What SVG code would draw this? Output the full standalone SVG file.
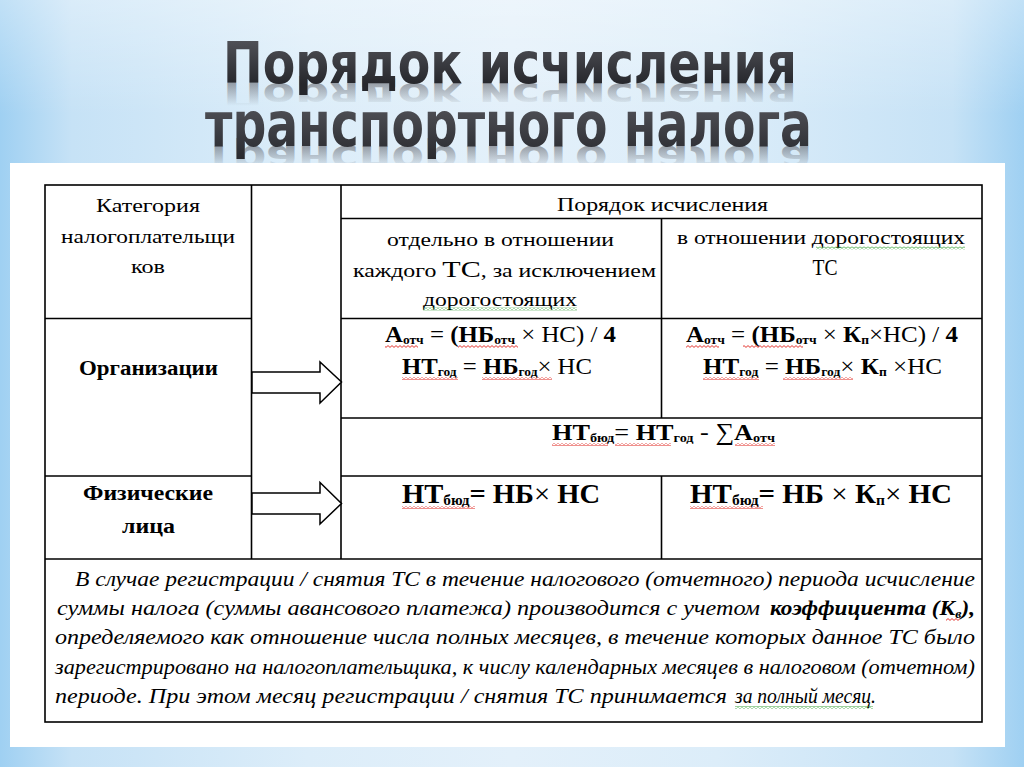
<svg xmlns="http://www.w3.org/2000/svg" width="1024" height="767" viewBox="0 0 1024 767">
<defs>
<linearGradient id="bg" x1="0" y1="0" x2="1" y2="0">
<stop offset="0" stop-color="#9fd0f2"/>
<stop offset="0.07" stop-color="#c6e2f6"/>
<stop offset="0.3" stop-color="#dcedf9"/>
<stop offset="0.5" stop-color="#e3f0fa"/>
<stop offset="0.7" stop-color="#dcedf9"/>
<stop offset="0.93" stop-color="#c6e2f6"/>
<stop offset="1" stop-color="#9fd0f2"/>
</linearGradient>
<linearGradient id="topfade" x1="0" y1="0" x2="0" y2="1">
<stop offset="0" stop-color="#ffffff" stop-opacity="0.35"/>
<stop offset="0.15" stop-color="#ffffff" stop-opacity="0"/>
<stop offset="1" stop-color="#ffffff" stop-opacity="0"/>
</linearGradient>
<linearGradient id="tg1" gradientUnits="userSpaceOnUse" x1="0" y1="40" x2="0" y2="84">
<stop offset="0" stop-color="#505157"/>
<stop offset="1" stop-color="#26272c"/>
</linearGradient>
<linearGradient id="tg2" gradientUnits="userSpaceOnUse" x1="0" y1="105" x2="0" y2="162">
<stop offset="0" stop-color="#505157"/>
<stop offset="1" stop-color="#26272c"/>
</linearGradient>
<linearGradient id="rg1" gradientUnits="userSpaceOnUse" x1="0" y1="83" x2="0" y2="45">
<stop offset="0" stop-color="#5a5b62" stop-opacity="0.55"/>
<stop offset="1" stop-color="#5a5b62" stop-opacity="0"/>
</linearGradient>
<linearGradient id="rg2" gradientUnits="userSpaceOnUse" x1="0" y1="146" x2="0" y2="110">
<stop offset="0" stop-color="#5a5b62" stop-opacity="0.55"/>
<stop offset="1" stop-color="#5a5b62" stop-opacity="0"/>
</linearGradient>
<pattern id="wr" width="4" height="3" patternUnits="userSpaceOnUse">
<polyline points="0,0.6 2,2.4 4,0.6" fill="none" stroke="#e0201a" stroke-width="0.9"/>
</pattern>
<pattern id="wg" width="4" height="3" patternUnits="userSpaceOnUse">
<polyline points="0,0.6 2,2.4 4,0.6" fill="none" stroke="#3aa43a" stroke-width="0.9"/>
</pattern>
<style>
.title{font-family:"DejaVu Sans Condensed","DejaVu Sans",sans-serif;font-stretch:condensed;font-weight:bold}
.t{font-family:"Liberation Serif","Times New Roman",serif;font-size:19px;fill:#000}
.b{font-family:"Liberation Serif","Times New Roman",serif;font-weight:bold;fill:#000}
.f{font-family:"Liberation Serif","Times New Roman",serif;font-size:24px;fill:#000}
.bd{font-weight:bold}
.nb{font-weight:normal}
.sub{font-size:13px;font-weight:bold}
.it{font-family:"Liberation Serif","Times New Roman",serif;font-style:italic;font-size:20px;fill:#000}
.ln{stroke:#000;stroke-width:1.6;fill:none}
.arrow{fill:#fff;stroke:#000;stroke-width:1.5;stroke-linejoin:miter}
.wr{fill:url(#wr)}
.wg{fill:url(#wg)}
</style>
</defs>

<!-- background -->
<rect x="0" y="0" width="1024" height="767" fill="url(#bg)"/>
<rect x="0" y="0" width="1024" height="767" fill="url(#topfade)"/>

<!-- title -->
<g id="title">
<g transform="translate(0,83) scale(1,-0.6) translate(0,-83)">
<text class="title" x="223" y="83" font-size="57" textLength="574" lengthAdjust="spacingAndGlyphs" fill="url(#rg1)">Порядок исчисления</text>
</g>
<text class="title" x="223" y="83" font-size="57" textLength="574" lengthAdjust="spacingAndGlyphs" fill="url(#tg1)">Порядок исчисления</text>
<g transform="translate(0,146) scale(1,-0.6) translate(0,-146)">
<text class="title" x="205" y="146" font-size="63" textLength="607" lengthAdjust="spacingAndGlyphs" fill="url(#rg2)">транспортного налога</text>
</g>
<text class="title" x="205" y="146" font-size="63" textLength="607" lengthAdjust="spacingAndGlyphs" fill="url(#tg2)">транспортного налога</text>
</g>

<!-- white panel -->
<rect x="10" y="163" width="995" height="584" fill="#ffffff"/>

<!-- table grid -->
<g id="grid">
<rect class="ln" x="45" y="185" width="937" height="537"/>
<line class="ln" x1="251.5" y1="185" x2="251.5" y2="559"/>
<line class="ln" x1="341" y1="185" x2="341" y2="559"/>
<line class="ln" x1="661.5" y1="218.5" x2="661.5" y2="418"/>
<line class="ln" x1="661.5" y1="476" x2="661.5" y2="559"/>
<line class="ln" x1="341" y1="218.5" x2="982" y2="218.5"/>
<line class="ln" x1="45" y1="318.5" x2="251.5" y2="318.5"/>
<line class="ln" x1="341" y1="318.5" x2="982" y2="318.5"/>
<line class="ln" x1="341" y1="418" x2="982" y2="418"/>
<line class="ln" x1="45" y1="476" x2="251.5" y2="476"/>
<line class="ln" x1="341" y1="476" x2="982" y2="476"/>
<line class="ln" x1="45" y1="559" x2="982" y2="559"/>
</g>

<!-- header cells -->
<g id="hdr-category">
<text class="t" x="148" y="211.5" text-anchor="middle" textLength="104" lengthAdjust="spacingAndGlyphs">Категория</text>
<text class="t" x="148" y="243" text-anchor="middle" textLength="174" lengthAdjust="spacingAndGlyphs">налогоплательщи</text>
<text class="t" x="148" y="273" text-anchor="middle" textLength="34" lengthAdjust="spacingAndGlyphs">ков</text>
</g>
<g id="hdr-order">
<text class="t" x="557" y="210.5" textLength="211" lengthAdjust="spacingAndGlyphs">Порядок исчисления</text>
</g>
<g id="hdr-ordinary">
<text class="t" x="387" y="245.5" textLength="227" lengthAdjust="spacingAndGlyphs">отдельно в отношении</text>
<text class="t" x="353" y="276.5" textLength="303" lengthAdjust="spacingAndGlyphs">каждого <tspan style="font-size:24px">ТС</tspan>, за исключением</text>
<text class="t" x="423" y="305.5" textLength="154" lengthAdjust="spacingAndGlyphs">дорогостоящих</text>
<rect class="wg" x="423" y="307.5" width="154" height="3"/>
</g>
<g id="hdr-expensive">
<text class="t" x="677" y="244" textLength="288" lengthAdjust="spacingAndGlyphs">в отношении дорогостоящих</text>
<rect class="wg" x="816" y="246.5" width="149" height="3"/>
<text class="t" x="825" y="275" text-anchor="middle" style="font-size:24px" textLength="25" lengthAdjust="spacingAndGlyphs">ТС</text>
</g>

<!-- organisations row -->
<g id="row-org">
<text class="b" x="148.5" y="375" font-size="20" text-anchor="middle" textLength="139" lengthAdjust="spacingAndGlyphs">Организации</text>
</g>
<g id="org-ordinary">
<text class="f" x="385" y="342" textLength="231" lengthAdjust="spacingAndGlyphs"><tspan class="bd">А</tspan><tspan class="sub" dy="2">отч</tspan><tspan dy="-2"> = </tspan><tspan class="bd">(НБ</tspan><tspan class="sub" dy="2">отч</tspan><tspan dy="-2"> × НС) / </tspan><tspan class="bd">4</tspan></text>
<rect class="wr" x="385" y="345" width="33" height="3"/>
<rect class="wr" x="458" y="345" width="60" height="3"/>
<text class="f" x="402" y="374" textLength="190" lengthAdjust="spacingAndGlyphs"><tspan class="bd">НТ</tspan><tspan class="sub" dy="2">год</tspan><tspan dy="-2"> = </tspan><tspan class="bd">НБ</tspan><tspan class="sub" dy="2">год</tspan><tspan dy="-2">× НС</tspan></text>
<rect class="wr" x="402" y="377" width="56" height="3"/>
<rect class="wr" x="482" y="377" width="70" height="3"/>
</g>
<g id="org-expensive">
<text class="f" x="686" y="342" textLength="272" lengthAdjust="spacingAndGlyphs"><tspan class="bd">А</tspan><tspan class="sub" dy="2">отч</tspan><tspan dy="-2"> = </tspan><tspan class="bd">(НБ</tspan><tspan class="sub" dy="2">отч</tspan><tspan dy="-2"> × </tspan><tspan class="bd">К</tspan><tspan class="sub" dy="2">п</tspan><tspan dy="-2">×НС) / </tspan><tspan class="bd">4</tspan></text>
<rect class="wr" x="686" y="345" width="33" height="3"/>
<rect class="wr" x="743" y="345" width="60" height="3"/>
<text class="f" x="703" y="374" textLength="239" lengthAdjust="spacingAndGlyphs"><tspan class="bd">НТ</tspan><tspan class="sub" dy="2">год</tspan><tspan dy="-2"> = </tspan><tspan class="bd">НБ</tspan><tspan class="sub" dy="2">год</tspan><tspan dy="-2">× </tspan><tspan class="bd">К</tspan><tspan class="sub" dy="2">п</tspan><tspan dy="-2"> ×НС</tspan></text>
<rect class="wr" x="703" y="377" width="56" height="3"/>
<rect class="wr" x="783" y="377" width="70" height="3"/>
</g>
<g id="org-budget">
<text class="f" x="552" y="440" textLength="223" lengthAdjust="spacingAndGlyphs"><tspan class="bd">НТ</tspan><tspan class="sub" dy="2">бюд</tspan><tspan dy="-2">= </tspan><tspan class="bd">НТ</tspan><tspan class="sub" dy="2">год</tspan><tspan dy="-2"> - ∑</tspan><tspan class="bd">А</tspan><tspan class="sub" dy="2">отч</tspan></text>
<rect class="wr" x="552" y="443" width="56" height="3"/>
<rect class="wr" x="615" y="443" width="56" height="3"/>
<rect class="wr" x="735" y="443" width="40" height="3"/>
</g>

<!-- individuals row -->
<g id="row-ind">
<text class="b" x="148" y="500" font-size="20" text-anchor="middle" textLength="130" lengthAdjust="spacingAndGlyphs">Физические</text>
<text class="b" x="148.5" y="533" font-size="20" text-anchor="middle" textLength="53" lengthAdjust="spacingAndGlyphs">лица</text>
</g>
<g id="ind-ordinary">
<text class="b" x="402" y="503" font-size="28" textLength="198" lengthAdjust="spacingAndGlyphs">НТ<tspan font-size="15" dy="2">бюд</tspan><tspan dy="-2">= НБ</tspan><tspan class="nb">× </tspan>НС</text>
<rect class="wr" x="402" y="506" width="73" height="3"/>
</g>
<g id="ind-expensive">
<text class="b" x="690" y="503" font-size="28" textLength="262" lengthAdjust="spacingAndGlyphs">НТ<tspan font-size="15" dy="2">бюд</tspan><tspan dy="-2">= НБ </tspan><tspan class="nb">× </tspan>К<tspan font-size="15" dy="2">п</tspan><tspan dy="-2" class="nb">× </tspan>НС</text>
<rect class="wr" x="690" y="506" width="73" height="3"/>
</g>

<!-- note paragraph -->
<g id="note">
<text class="it" x="75" y="586" textLength="900" lengthAdjust="spacingAndGlyphs">В случае регистрации / снятия ТС в течение налогового (отчетного) периода исчисление</text>
<text class="it" x="57" y="615" textLength="703" lengthAdjust="spacingAndGlyphs">суммы налога (суммы авансового платежа) производится с учетом</text>
<text class="it" x="770" y="615" textLength="205" lengthAdjust="spacingAndGlyphs" font-weight="bold">коэффициента (К<tspan font-size="12" dy="3">в</tspan><tspan dy="-3">),</tspan></text>
<rect class="wr" x="946" y="618" width="14" height="3"/>
<text class="it" x="55" y="644" textLength="920" lengthAdjust="spacingAndGlyphs">определяемого как отношение числа полных месяцев, в течение которых данное ТС было</text>
<text class="it" x="55" y="674" textLength="920" lengthAdjust="spacingAndGlyphs">зарегистрировано на налогоплательщика, к числу календарных месяцев в налоговом (отчетном)</text>
<text class="it" x="55" y="703" textLength="672" lengthAdjust="spacingAndGlyphs">периоде. При этом месяц регистрации / снятия ТС принимается</text>
<text class="it" x="735" y="703" textLength="141" lengthAdjust="spacingAndGlyphs">за полный месяц.</text>
<rect class="wg" x="735" y="706" width="138" height="3"/>
</g>

<!-- connectors -->
<g id="connectors">
<polygon class="arrow" points="252,372 320,372 320,362 341.5,382 320,403 320,393 252,393"/>
<polygon class="arrow" points="252,493 320,493 320,482.5 341.5,503.5 320,524 320,514 252,514"/>
</g>
</svg>
